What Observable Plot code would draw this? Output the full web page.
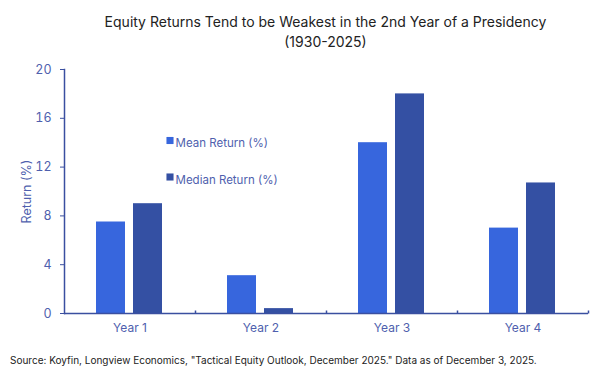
<!DOCTYPE html>
<html>
<head>
<meta charset="utf-8">
<script src="https://cdn.jsdelivr.net/npm/d3@7"></script>
<script src="https://cdn.jsdelivr.net/npm/@observablehq/plot@0.6"></script>
<style>
  body { margin: 0; background: #fff; font-family: Inter, "Open Sans", sans-serif; }
  #wrap { width: 615px; height: 373px; position: relative; }
  #title { box-sizing: border-box; width: 615px; padding: 12px 26px 0 62px; text-align: center; font-size: 14px; line-height: 20px; color: #222; height: 55px; }
  #caption { font-size: 10px; color: #222; padding-left: 10px; margin-top: 9px; }
  svg { display: block; }
</style>
</head>
<body>
<div id="wrap">
  <div id="title">Equity Returns Tend to be Weakest in the 2nd Year of a Presidency<br>(1930-2025)</div>
  <div id="chart"></div>
  <div id="caption">Source: Koyfin, Longview Economics, "Tactical Equity Outlook, December 2025." Data as of December 3, 2025.</div>
</div>
<script>
const categories = ["Year 1", "Year 2", "Year 3", "Year 4"];
const meanReturn = [7.5, 3.1, 14.0, 7.0];
const medianReturn = [9.0, 0.4, 18.0, 10.7];
const seriesNames = ["Mean Return (%)", "Median Return (%)"];
const seriesColors = ["#3766DD", "#3450A3"];
const yTicks = [0, 4, 8, 12, 16, 20];
const yLabel = "Return (%)";

const data = categories.flatMap((c, i) => [
  {year: c, series: seriesNames[0], value: meanReturn[i]},
  {year: c, series: seriesNames[1], value: medianReturn[i]}
]);

const axisColor = "#3a4fa0";
const labelColor = "#4f5fae";
const tickSymbol = {draw(ctx) { ctx.moveTo(0, 0); ctx.lineTo(0, -3); }};

const legendMarks = seriesNames.flatMap((name, i) => [
  Plot.dot([name], {fx: () => categories[0], frameAnchor: "top-left", dx: 105.5, dy: 71 + i * 36.5,
    symbol: "square", r: 4, fill: seriesColors[i], stroke: null}),
  Plot.text([name], {fx: () => categories[0], frameAnchor: "top-left", dx: 111, dy: 69.5 + i * 36.5,
    text: d => d, textAnchor: "start", fill: labelColor, fontSize: 11.5})
]);

const chart = Plot.plot({
  width: 615,
  height: 290,
  marginLeft: 62,
  marginRight: 26,
  marginTop: 14,
  marginBottom: 32,
  style: {fontFamily: "Inter, 'Open Sans', sans-serif", fontSize: "12px", background: "#fff"},
  fx: {domain: categories, padding: 0, label: null},
  x: {domain: seriesNames, paddingInner: 0.21, paddingOuter: 0.84, axis: null},
  y: {domain: [0, 20], label: yLabel},
  color: {domain: seriesNames, range: seriesColors},
  marks: [
    Plot.barY(data, {fx: "year", x: "series", y: "value", fill: "series"}),
    Plot.ruleY([0], {stroke: axisColor, strokeWidth: 1.5}),
    Plot.frame({anchor: "left", facetAnchor: "left", stroke: axisColor, strokeWidth: 1.5}),
    Plot.dot([0], {frameAnchor: "bottom-right", symbol: tickSymbol, stroke: axisColor, fill: "none", r: 4}),
    Plot.axisY({ticks: yTicks, tickSize: 4, tickPadding: 9, stroke: axisColor, color: labelColor,
      fontSize: 12.5, label: yLabel, labelAnchor: "center", labelArrow: "none", labelOffset: 42}),
    Plot.axisFx({anchor: "bottom", tickSize: 0, tickPadding: 10, color: labelColor, fontSize: 12, label: null}),
    ...legendMarks
  ]
});
document.getElementById("chart").appendChild(chart);
</script>
</body>
</html>
